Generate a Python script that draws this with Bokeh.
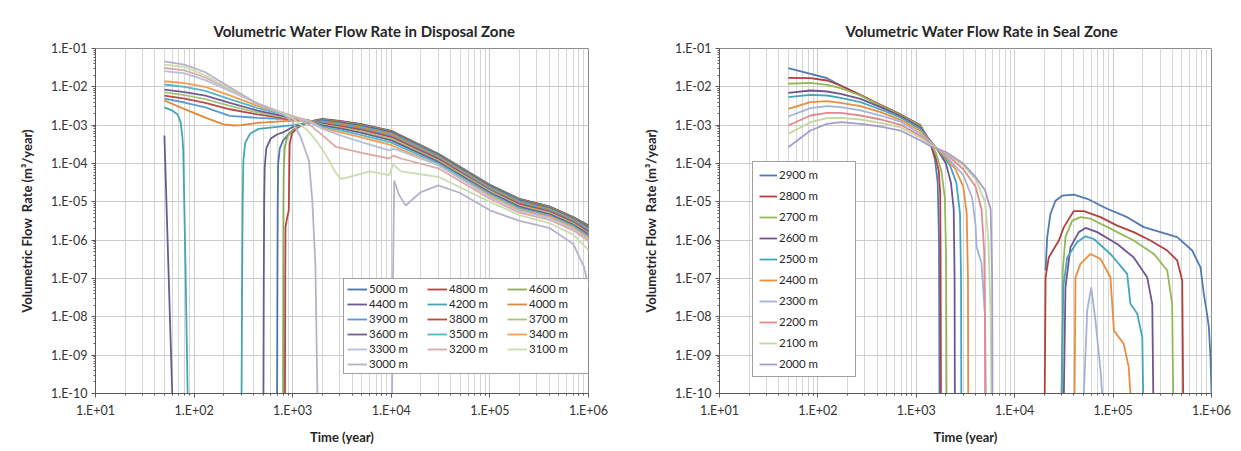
import math
from bokeh.plotting import figure
from bokeh.layouts import row
from bokeh.models import FixedTicker, CustomJSTickFormatter
from bokeh.embed import file_html
from bokeh.resources import INLINE

GAP = float("nan")

# ---------------- Disposal zone (left) ----------------
disp_5000_t = [695, 700, 705, 712, 740, 800, 950, 1200, 1500, 2000, 3000, 5000, 10000, 30000, 100000, 200000, 400000, 700000, 1000000]
disp_5000_v = [1e-10, 1e-7, 1e-5, 1e-4, 2.5e-4, 4e-4, 6.6e-4, 1.0e-3, 1.25e-3, 1.45e-3, 1.3e-3, 1.07e-3, 7.1e-4, 1.8e-4, 2.8e-5, 1.2e-5, 7.6e-6, 4.0e-6, 2.45e-6]
disp_4800_t = [835, 840, 845, 880, 912, 925, 932, 980, 1110, 1400, 2000, 3000, 5000, 10000, 30000, 100000, 200000, 400000, 700000, 1000000]
disp_4800_v = [1e-10, 1e-7, 2.2e-6, 4e-6, 5.9e-6, 1e-4, 3.2e-4, 6e-4, 8.5e-4, 1.2e-3, 1.42e-3, 1.27e-3, 1.04e-3, 7.0e-4, 1.77e-4, 2.75e-5, 1.17e-5, 7.5e-6, 3.95e-6, 2.35e-6]
disp_4600_t = [798, 802, 806, 812, 830, 880, 1000, 1110, 1400, 2000, 3000, 5000, 10000, 30000, 100000, 200000, 400000, 700000, 1000000]
disp_4600_v = [1e-10, 1e-7, 1e-5, 8e-5, 2.5e-4, 5e-4, 7.5e-4, 9e-4, 1.18e-3, 1.38e-3, 1.23e-3, 1.0e-3, 6.8e-4, 1.73e-4, 2.7e-5, 1.14e-5, 7.3e-6, 3.85e-6, 2.25e-6]
disp_4400_t = [50, 60, GAP, 505, 509, 514, 520, 540, 600, 700, 813, 1000, 1400, 2000, 3000, 5000, 10000, 30000, 100000, 200000, 400000, 700000, 1000000]
disp_4400_v = [5.4e-4, 1e-10, GAP, 1e-10, 1e-7, 1e-5, 8e-5, 2.5e-4, 4.5e-4, 5.8e-4, 6.6e-4, 9e-4, 1.2e-3, 1.33e-3, 1.18e-3, 9.6e-4, 6.6e-4, 1.68e-4, 2.6e-5, 1.1e-5, 7.0e-6, 3.7e-6, 2.15e-6]
disp_4200_t = [50, 60, 68, 73, 76, 77.6, 81.8, 86, GAP, 303, 307, 311, 316, 330, 370, 450, 700, 1000, 1500, 2000, 3000, 5000, 10000, 30000, 100000, 200000, 400000, 700000, 1000000]
disp_4200_v = [2.9e-3, 2.4e-3, 1.9e-3, 1.2e-3, 5e-4, 2.2e-4, 2e-7, 1e-10, GAP, 1e-10, 1e-7, 1e-5, 1.2e-4, 3.5e-4, 6e-4, 8e-4, 9e-4, 1.0e-3, 1.15e-3, 1.27e-3, 1.12e-3, 9.1e-4, 6.2e-4, 1.6e-4, 2.45e-5, 1.04e-5, 6.7e-6, 3.55e-6, 2.0e-6]
disp_4000_t = [50, 78, 136, 200, 253, 300, 440, 830, 1000, 1500, 2000, 3000, 5000, 10000, 30000, 100000, 200000, 400000, 700000, 1000000]
disp_4000_v = [4.4e-3, 2.7e-3, 1.5e-3, 1.05e-3, 9.8e-4, 1.0e-3, 1.15e-3, 1.28e-3, 1.3e-3, 1.3e-3, 1.22e-3, 1.06e-3, 8.6e-4, 5.8e-4, 1.5e-4, 2.3e-5, 9.8e-6, 6.4e-6, 3.35e-6, 1.9e-6]

disp_main_t = [50, 80, 130, 230, 440, 830, 1000, 1500, 2000, 3000, 5000, 10000, 30000, 100000, 200000, 400000, 700000, 1000000]
disp_3900_v = [4.9e-3, 3.9e-3, 2.9e-3, 1.75e-3, 1.55e-3, 1.45e-3, 1.4e-3, 1.3e-3, 1.16e-3, 1.0e-3, 8.0e-4, 5.3e-4, 1.4e-4, 2.15e-5, 9.2e-6, 6.0e-6, 3.15e-6, 1.8e-6]
disp_3800_v = [5.9e-3, 4.9e-3, 3.8e-3, 2.6e-3, 1.9e-3, 1.5e-3, 1.45e-3, 1.3e-3, 1.1e-3, 9.4e-4, 7.5e-4, 4.9e-4, 1.3e-4, 2.0e-5, 8.6e-6, 5.6e-6, 2.95e-6, 1.65e-6]
disp_3700_v = [7.2e-3, 6.1e-3, 4.8e-3, 3.2e-3, 2.15e-3, 1.6e-3, 1.5e-3, 1.3e-3, 1.04e-3, 8.8e-4, 6.9e-4, 4.4e-4, 1.2e-4, 1.9e-5, 8.0e-6, 5.2e-6, 2.75e-6, 1.5e-6]
disp_3600_v = [8.5e-3, 7.3e-3, 5.9e-3, 3.8e-3, 2.4e-3, 1.7e-3, 1.55e-3, 1.3e-3, 9.8e-4, 8.2e-4, 6.3e-4, 4.0e-4, 1.1e-4, 1.75e-5, 7.4e-6, 4.8e-6, 2.55e-6, 1.4e-6]
disp_3500_v = [1.15e-2, 1.0e-2, 7.8e-3, 4.8e-3, 2.8e-3, 1.85e-3, 1.62e-3, 1.3e-3, 9.0e-4, 7.4e-4, 5.5e-4, 3.5e-4, 1.0e-4, 1.6e-5, 6.8e-6, 4.4e-6, 2.35e-6, 1.25e-6]
disp_3400_v = [1.4e-2, 1.25e-2, 1.0e-2, 6.0e-3, 3.2e-3, 1.95e-3, 1.7e-3, 1.3e-3, 8.2e-4, 6.6e-4, 4.8e-4, 3.0e-4, 9e-5, 1.45e-5, 6.2e-6, 4.1e-6, 2.15e-6, 1.15e-6]

disp_3300_t = [50, 80, 130, 230, 440, 830, 1000, 1500, 2000, 3000, 5000, 9500, 10500, 12500, 30000, 100000, 200000, 400000, 700000, 1000000]
disp_3300_v = [2.56e-2, 2.25e-2, 1.5e-2, 7.8e-3, 3.6e-3, 2.0e-3, 1.72e-3, 1.2e-3, 8e-4, 5.5e-4, 3.6e-4, 2.2e-4, 2.4e-4, 2.1e-4, 9e-5, 1.35e-5, 5.8e-6, 3.8e-6, 2.0e-6, 1.05e-6]
disp_3200_t = [50, 80, 130, 230, 440, 830, 1000, 1500, 2000, 2750, 5000, 9500, 10500, 12500, 30000, 100000, 200000, 400000, 700000, 1000000]
disp_3200_v = [3.1e-2, 2.7e-2, 1.75e-2, 8.5e-3, 3.7e-3, 2.0e-3, 1.7e-3, 1.0e-3, 5.5e-4, 2.7e-4, 1.9e-4, 1.35e-4, 1.6e-4, 1.35e-4, 7.5e-5, 1.2e-5, 5.2e-6, 3.4e-6, 1.8e-6, 9.5e-7]
disp_3100_t = [50, 80, 130, 230, 440, 830, 1000, 1400, 1800, 2240, 2700, 3050, 3500, 6000, 9500, 10500, 12500, 30000, 100000, 200000, 400000, 700000, 1000000]
disp_3100_v = [3.8e-2, 3.3e-2, 2.0e-2, 9.0e-3, 3.6e-3, 1.9e-3, 1.5e-3, 7.5e-4, 3.5e-4, 1.45e-4, 6e-5, 4e-5, 4.2e-5, 6.2e-5, 5e-5, 9.5e-5, 6.2e-5, 4.5e-5, 1.0e-5, 4.5e-6, 2.8e-6, 1.4e-6, 5.5e-7]
disp_3000_t = [50, 80, 130, 230, 440, 830, 1000, 1200, 1460, 1580, 1640, 1700, 1780, GAP, 10200, 10400, 10700, 12000, 14000, 20000, 30000, 50000, 100000, 200000, 400000, 700000, 900000, 1000000]
disp_3000_v = [4.6e-2, 3.8e-2, 2.4e-2, 9.8e-3, 3.6e-3, 1.8e-3, 1.2e-3, 5e-4, 1.2e-4, 1.1e-5, 1.5e-6, 2e-7, 1e-10, GAP, 1e-10, 1e-7, 3.6e-5, 1.5e-5, 8e-6, 1.8e-5, 2.7e-5, 1.7e-5, 6e-6, 3.2e-6, 2.1e-6, 8e-7, 2e-7, 6e-8]

disp_labels = ["5000 m", "4800 m", "4600 m", "4400 m", "4200 m", "4000 m", "3900 m", "3800 m",
               "3700 m", "3600 m", "3500 m", "3400 m", "3300 m", "3200 m", "3100 m", "3000 m"]
disp_colors = ["#4A74AA", "#B8433F", "#8DAA5A", "#6B5990", "#45A5B4", "#E0883C", "#5C9AD2", "#B64C49",
               "#A8C47A", "#705E95", "#52B7CB", "#F59D50", "#B4C1DC", "#DDAAA8", "#CADDB0", "#B7B2CC"]
disp_t = [disp_5000_t, disp_4800_t, disp_4600_t, disp_4400_t, disp_4200_t, disp_4000_t,
          disp_main_t, disp_main_t, disp_main_t, disp_main_t, disp_main_t, disp_main_t,
          disp_3300_t, disp_3200_t, disp_3100_t, disp_3000_t]
disp_v = [disp_5000_v, disp_4800_v, disp_4600_v, disp_4400_v, disp_4200_v, disp_4000_v,
          disp_3900_v, disp_3800_v, disp_3700_v, disp_3600_v, disp_3500_v, disp_3400_v,
          disp_3300_v, disp_3200_v, disp_3100_v, disp_3000_v]

# ---------------- Seal zone (right), values as log10 of the rate ----------------
seal_2900_t = [50, 84, 124, 170, 271, 433, 692, 1100, 1390, 1550, 1650, 1700, 1720, GAP,
               20600, 21400, 23100, 26000, 30400, 39900, 54600, 87000, 139000, 205000, 303000, 448000, 637000, 773000, 835000, 890000, 940000, 977000, 1000000]
seal_2900_e = [-1.51, -1.66, -1.775, -1.965, -2.226, -2.487, -2.73, -3.0, -3.45, -3.9, -4.5, -6, -10, GAP,
               -6.79, -5.92, -5.31, -4.97, -4.84, -4.81, -4.92, -5.18, -5.40, -5.66, -5.79, -5.92, -6.27, -6.71, -7.4, -7.84, -8.27, -9.05, -10]
seal_2800_t = [50, 84, 124, 170, 271, 433, 692, 1100, 1390, 1570, 1690, 1750, 1765, 1780, GAP,
               20200, 20600, 22200, 28100, 31600, 39900, 50400, 74500, 110000, 162000, 240000, 355000, 448000, 504000, 515000]
seal_2800_e = [-1.765, -1.775, -1.835, -1.965, -2.21, -2.47, -2.72, -3.0, -3.5, -3.84, -4.18, -4.79, -6.5, -10, GAP,
               -10, -6.97, -6.45, -6.01, -5.66, -5.24, -5.24, -5.40, -5.62, -5.79, -6.01, -6.27, -6.53, -7.05, -10]
seal_2700_t = [50, 84, 124, 170, 271, 433, 692, 1100, 1390, 1600, 1800, 1950, 2010, 2030, GAP,
               30400, 30800, 32800, 38400, 46600, 58900, 94000, 162000, 260000, 355000, 398000, 408000]
seal_2700_e = [-1.92, -1.895, -1.947, -2.035, -2.226, -2.487, -2.735, -3.02, -3.45, -3.75, -4.2, -4.9, -6.5, -10, GAP,
               -10, -6.79, -5.92, -5.49, -5.40, -5.44, -5.70, -6.01, -6.36, -6.79, -7.66, -10]
seal_2600_t = [50, 84, 124, 170, 271, 433, 692, 1100, 1400, 1700, 2000, 2250, 2400, 2450, 2465, GAP,
               31600, 32800, 36900, 44800, 52500, 69000, 110000, 162000, 222000, 250000, 256000]
seal_2600_e = [-2.156, -2.096, -2.122, -2.183, -2.313, -2.53, -2.76, -3.06, -3.42, -3.7, -4.0, -4.5, -5.2, -7, -10, GAP,
               -10, -7.23, -6.18, -5.79, -5.68, -5.79, -6.10, -6.45, -6.97, -7.66, -10]
seal_2500_t = [50, 84, 124, 170, 271, 433, 692, 1100, 1400, 1800, 2200, 2550, 2780, 2850, 2865, GAP,
               29900, 31200, 34200, 43200, 52500, 63700, 94000, 139000, 150000, 176000, 198000, 202000]
seal_2500_e = [-2.27, -2.209, -2.226, -2.287, -2.4, -2.591, -2.8, -3.1, -3.43, -3.75, -4.05, -4.5, -5.3, -7, -10, GAP,
               -10, -7.2, -6.45, -6.05, -5.9, -5.97, -6.36, -6.88, -7.66, -7.92, -8.53, -10]
seal_2400_t = [50, 84, 124, 170, 271, 433, 692, 1100, 1400, 2000, 2500, 3000, 3250, 3350, 3370, GAP,
               40600, 41500, 46600, 58900, 74500, 94000, 102000, 128000, 144000, 150000]
seal_2400_e = [-2.574, -2.4, -2.374, -2.417, -2.504, -2.661, -2.86, -3.15, -3.44, -3.85, -4.15, -4.6, -5.3, -7, -10, GAP,
               -10, -6.97, -6.62, -6.36, -6.49, -6.97, -8.36, -8.70, -9.31, -10]
seal_2300_t = [50, 84, 124, 170, 271, 433, 692, 1100, 1400, 2000, 3000, 3700, 4000, 4100, 4600, 5000, 5100, GAP,
               50400, 54600, 59900, 66200, 74500, 77500]
seal_2300_e = [-2.774, -2.556, -2.504, -2.53, -2.617, -2.748, -2.91, -3.22, -3.46, -3.8, -4.3, -4.9, -5.6, -6.18, -6.6, -8, -10, GAP,
               -10, -7.84, -7.23, -8.10, -9.4, -10]
seal_2200_t = [50, 84, 124, 170, 271, 433, 692, 1100, 1400, 2000, 3000, 4000, 4600, 4900, 4980, 5000]
seal_2200_e = [-3.009, -2.748, -2.678, -2.678, -2.748, -2.852, -2.99, -3.28, -3.5, -3.75, -4.15, -4.6, -5.2, -6.3, -8, -10]
seal_2100_t = [50, 84, 124, 170, 271, 433, 692, 1100, 1400, 2000, 3000, 4000, 5000, 5400, 5700, 5800]
seal_2100_e = [-3.226, -2.922, -2.817, -2.809, -2.852, -2.939, -3.06, -3.33, -3.52, -3.72, -4.05, -4.4, -5.0, -6.0, -8.0, -10]
seal_2000_t = [50, 84, 124, 170, 271, 433, 692, 1100, 1400, 2000, 3000, 4000, 5000, 5700, 5900, 5950]
seal_2000_e = [-3.574, -3.139, -2.965, -2.922, -2.965, -3.035, -3.14, -3.4, -3.55, -3.7, -4.0, -4.35, -4.7, -5.2, -7, -10]

seal_labels = ["2900 m", "2800 m", "2700 m", "2600 m", "2500 m", "2400 m", "2300 m", "2200 m", "2100 m", "2000 m"]
seal_colors = ["#4F7BB5", "#B3403D", "#93B957", "#6F5591", "#43A5BE", "#EB8E3C", "#A3B2D8", "#E28A8F", "#C3D89E", "#A99BCB"]
seal_t = [seal_2900_t, seal_2800_t, seal_2700_t, seal_2600_t, seal_2500_t, seal_2400_t, seal_2300_t, seal_2200_t, seal_2100_t, seal_2000_t]
seal_e = [seal_2900_e, seal_2800_e, seal_2700_e, seal_2600_e, seal_2500_e, seal_2400_e, seal_2300_e, seal_2200_e, seal_2100_e, seal_2000_e]

x_major = [10 ** k for k in range(1, 7)]
x_minor = [m * 10 ** k for k in range(1, 6) for m in range(2, 10)]
y_major = [10.0 ** k for k in range(-10, 0)]
y_minor = [m * 10.0 ** k for k in range(-10, -1) for m in range(2, 10)]

FMT = """
const e = Math.round(Math.log10(tick));
const a = Math.abs(e);
return "1.E" + (e < 0 ? "-" : "+") + (a < 10 ? "0" : "") + a;
"""
FONT = "Lato"


def make_fig(title, width, left, right, offset):
    p = figure(width=width, height=451, x_axis_type="log", y_axis_type="log",
               x_range=(10, 1e6), y_range=(1e-10, 1e-1),
               output_backend="svg", toolbar_location=None,
               min_border_left=left, min_border_right=right,
               min_border_top=48, min_border_bottom=58)
    p.title.text = title
    p.title.align = "left"
    p.title.offset = offset
    p.title.standoff = 18
    p.title.text_font = FONT
    p.title.text_font_style = "bold"
    p.title.text_font_size = "15px"
    p.title.text_color = "#262626"
    p.outline_line_color = "#8C8C8C"
    p.background_fill_color = "white"
    p.border_fill_color = "white"

    p.xaxis.ticker = FixedTicker(ticks=x_major, minor_ticks=x_minor)
    p.yaxis.ticker = FixedTicker(ticks=y_major, minor_ticks=y_minor)
    for ax in (p.xaxis[0], p.yaxis[0]):
        ax.formatter = CustomJSTickFormatter(code=FMT)
        ax.major_label_text_font = FONT
        ax.major_label_text_font_size = "12.5px"
        ax.major_label_text_color = "#333333"
        ax.axis_line_color = "#595959"
        ax.major_tick_line_color = "#595959"
        ax.minor_tick_line_color = "#595959"
        ax.major_tick_in = 0
        ax.major_tick_out = 4
        ax.minor_tick_in = 0
        ax.minor_tick_out = 2
        ax.axis_label_text_font = FONT
        ax.axis_label_text_font_style = "bold"
        ax.axis_label_text_font_size = "13px"
        ax.axis_label_text_color = "#262626"
    p.xaxis.axis_label = "Time (year)"
    p.yaxis.axis_label = "Volumetric Flow\u00a0\u00a0Rate (m\u00b3/year)"
    p.xaxis.major_label_standoff = 5
    p.xaxis.axis_label_standoff = 8
    p.yaxis.major_label_standoff = 4
    p.yaxis.axis_label_standoff = 13

    p.xgrid.grid_line_color = "#CCCCCC"
    p.xgrid.minor_grid_line_color = "#D6D6D6"
    p.ygrid.grid_line_color = "#CCCCCC"
    p.ygrid.minor_grid_line_color = None
    return p


p1 = make_fig("Volumetric Water Flow Rate in Disposal Zone", 620, 95, 32, 118)
for lab, col, tt, vv in zip(disp_labels, disp_colors, disp_t, disp_v):
    p1.line(tt, vv, line_color=col, line_width=1.8, legend_label=lab)

p2 = make_fig("Volumetric Water Flow Rate in Seal Zone", 621, 99, 30, 126)
for lab, col, tt, ee in zip(seal_labels, seal_colors, seal_t, seal_e):
    vv = [10.0 ** e if not math.isnan(e) else GAP for e in ee]
    p2.line(tt, vv, line_color=col, line_width=1.8, legend_label=lab)

for p in (p1, p2):
    lg = p.legend[0]
    lg.label_text_font = FONT
    lg.label_text_font_size = "11.5px"
    lg.label_text_color = "#262626"
    lg.border_line_color = "#404040"
    lg.border_line_width = 1
    lg.background_fill_color = "white"
    lg.background_fill_alpha = 1.0
    lg.margin = 0
    lg.label_standoff = 2

l1 = p1.legend[0]
l1.orientation = "horizontal"
l1.ncols = 3
l1.location = (248, 19)
l1.glyph_width = 20
l1.glyph_height = 12
l1.label_height = 12
l1.label_width = 56
l1.spacing = 2
l1.padding = 3

l2 = p2.legend[0]
l2.orientation = "vertical"
l2.location = (33, 16)
l2.glyph_width = 18
l2.glyph_height = 12
l2.label_height = 12
l2.label_width = 70
l2.spacing = 8
l2.padding = 6

layout = row(p1, p2)
open("out.html", "w").write(file_html(layout, INLINE))
